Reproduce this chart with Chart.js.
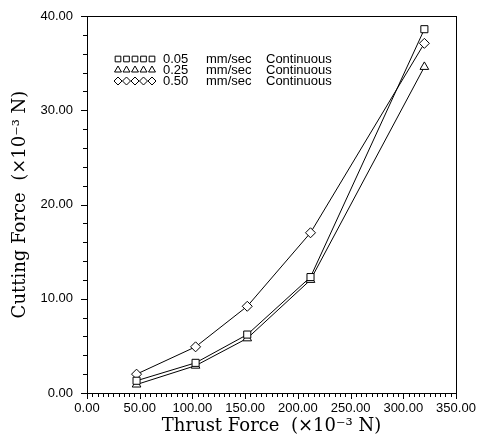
<!DOCTYPE html>
<html>
<head>
<meta charset="utf-8">
<script src="https://cdn.jsdelivr.net/npm/chart.js@4.4.0/dist/chart.umd.min.js"></script>
<style>
  html, body { margin: 0; padding: 0; background: #fff; }
  #wrap { width: 487px; height: 438px; }
</style>
</head>
<body>
<div id="wrap"><canvas id="forceChart" width="487" height="438"></canvas></div>
<script>
// thrust force positions (x10^-3 N)
const thrust = [47, 103, 152, 212, 320];
// cutting force per feed rate (x10^-3 N)
const feed005 = [1.3, 3.2, 6.2, 12.3, 38.6];
const feed025 = [0.9, 2.9, 5.8, 12.0, 34.6];
const feed050 = [2.0, 4.9, 9.2, 17.0, 37.1];
const seriesNames = ['0.05', '0.25', '0.50'];
const seriesUnit = 'mm/sec';
const seriesMode = 'Continuous';
const xTitle = 'Thrust Force  (\u00d710\u207b\u00b3 N)';
const yTitle = 'Cutting Force  (\u00d710\u207b\u00b3 N)';

const tickFont = { family: 'Liberation Sans, Arial, sans-serif', size: 13 };
const titleFont = { family: 'DejaVu Serif, serif', size: 18 };

function toPoints(ys) {
    return thrust.map((x, i) => ({ x: x, y: ys[i] }));
}

function makeSet(label, ys, style) {
    return {
        label: label,
        data: toPoints(ys),
        borderColor: '#000',
        borderWidth: 1,
        backgroundColor: '#fff',
        pointStyle: style,
        pointRadius: 5,
        pointBorderColor: '#000',
        pointBorderWidth: 1,
        showLine: true,
        tension: 0
    };
}

// minor ticks + plot frame
const frameTicks = {
    id: 'frameTicks',
    afterDraw(chart) {
        const ctx = chart.ctx;
        const a = chart.chartArea;
        const xs = chart.scales.x, ys = chart.scales.y;
        ctx.save();
        ctx.strokeStyle = '#000';
        ctx.lineWidth = 1;
        ctx.strokeRect(a.left + 0.5, a.top + 0.5, a.right - a.left, a.bottom - a.top);
        ctx.beginPath();
        for (let v = 0; v <= 350; v += 5) {
            const px = Math.round(xs.getPixelForValue(v)) + 0.5;
            const len = v % 50 === 0 ? 6 : 4;
            ctx.moveTo(px, a.bottom);
            ctx.lineTo(px, a.bottom + len);
        }
        for (let v = 0; v <= 40; v += 2) {
            const py = Math.round(ys.getPixelForValue(v)) + 0.5;
            const len = v % 10 === 0 ? 6 : 4;
            ctx.moveTo(a.left, py);
            ctx.lineTo(a.left - len, py);
        }
        ctx.stroke();
        ctx.restore();
    }
};

// legend drawn inside the plot, top-left
const insideLegend = {
    id: 'insideLegend',
    afterDraw(chart) {
        const ctx = chart.ctx;
        ctx.save();
        ctx.font = '13px Liberation Sans, Arial, sans-serif';
        ctx.textBaseline = 'middle';
        chart.data.datasets.forEach((ds, i) => {
            const y = 59 + i * 11;
            for (let k = 0; k < 5; k++) {
                ctx.fillStyle = '#fff';
                ctx.strokeStyle = '#000';
                Chart.helpers.drawPoint(ctx, {
                    pointStyle: ds.pointStyle,
                    radius: 4,
                    borderWidth: 1
                }, 118 + k * 8.5, y);
            }
            ctx.fillStyle = '#000';
            ctx.fillText(seriesNames[i], 163, y);
            ctx.fillText(seriesUnit, 206, y);
            ctx.fillText(seriesMode, 266, y);
        });
        ctx.restore();
    }
};

new Chart(document.getElementById('forceChart'), {
    type: 'scatter',
    data: {
        datasets: [
            makeSet(seriesNames[0], feed005, 'rect'),
            makeSet(seriesNames[1], feed025, 'triangle'),
            makeSet(seriesNames[2], feed050, 'rectRot')
        ]
    },
    options: {
        responsive: false,
        animation: false,
        layout: { padding: { top: 16, right: 31, left: 0, bottom: 0 } },
        plugins: {
            legend: { display: false },
            tooltip: { enabled: false }
        },
        scales: {
            x: {
                type: 'linear',
                min: 0,
                max: 350,
                afterFit: s => { s.height = 45; },
                ticks: {
                    stepSize: 50,
                    color: '#000',
                    font: tickFont,
                    padding: 0,
                    maxRotation: 0,
                    callback: v => v.toFixed(2)
                },
                grid: { display: false },
                border: { display: false },
                title: {
                    display: true,
                    text: xTitle,
                    color: '#000',
                    font: titleFont,
                    padding: { top: 0, bottom: 1 }
                }
            },
            y: {
                type: 'linear',
                min: 0,
                max: 40,
                afterFit: s => { s.width = 87; },
                ticks: {
                    stepSize: 10,
                    color: '#000',
                    font: tickFont,
                    padding: 6,
                    callback: v => v.toFixed(2)
                },
                grid: { display: false },
                border: { display: false },
                title: {
                    display: true,
                    text: yTitle,
                    color: '#000',
                    font: titleFont,
                    padding: { top: 10, bottom: 0 }
                }
            }
        }
    },
    plugins: [frameTicks, insideLegend]
});
</script>
</body>
</html>
